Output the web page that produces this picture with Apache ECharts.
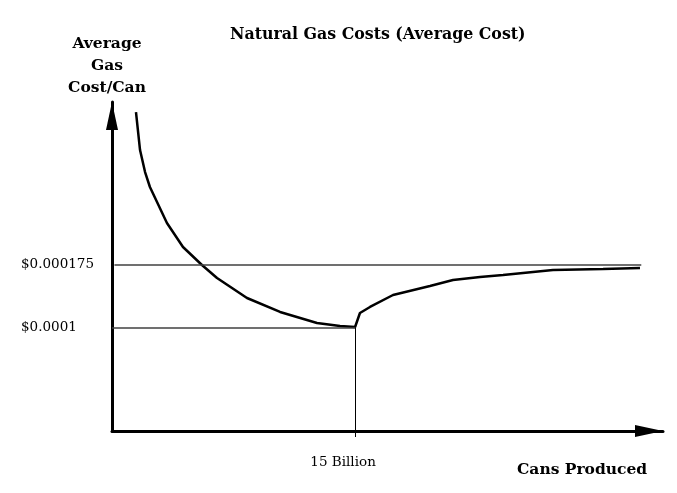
<!DOCTYPE html>
<html>
<head>
<meta charset="utf-8">
<title>Natural Gas Costs (Average Cost)</title>
<script src="https://cdn.jsdelivr.net/npm/echarts@6/dist/echarts.min.js"></script>
<style>
  html, body { margin: 0; padding: 0; background: #fff; }
  #main { width: 677px; height: 493px; }
</style>
</head>
<body>
<div id="main"></div>
<script>
// cans produced (billions) and average gas cost per can ($)
const cansBillions = [1.48, 1.73, 2.04, 2.34, 3.39, 4.38, 5.55, 6.48, 8.33, 10.37, 12.65, 14.07, 15.0,
                      15.30, 15.92, 17.34, 19.62, 21.04, 22.71, 24.13, 27.21, 30.30, 32.58];
const costPerCan = [0.000358, 0.0003125, 0.0002862, 0.0002683, 0.0002252, 0.0001965, 0.000175, 0.0001594,
                    0.0001355, 0.0001188, 0.0001056, 0.000102, 0.0001008,
                    0.0001176, 0.0001248, 0.0001391, 0.0001499, 0.000157, 0.0001607, 0.000163,
                    0.000169, 0.0001702, 0.0001714];

// reference levels
const minCostLevel = 0.0001;
const longRunLevel = 0.000175;
const minCostOutput = 15;
const yTickValues = [0.0001, 0.000175];
const yTickLabels = ['$0.0001', '$0.000175'];
const xTickValues = [15];
const xTickLabels = ['15 Billion'];

// axis range (the drawing does not start at zero)
const xMin = 0, xMax = 34;
const yMin = -0.0000236, yMax = 0.00037;

const points = cansBillions.map((x, i) => [x, costPerCan[i]]);

var chartDom = document.getElementById('main');
var myChart = echarts.init(chartDom, null, { renderer: 'canvas' });

const serif = '"DejaVu Serif", "Liberation Serif", serif';

var option = {
  animation: false,
  backgroundColor: '#fff',
  title: [
    {
      text: 'Natural Gas Costs (Average Cost)',
      left: 225,
      top: 22,
      textStyle: { fontFamily: serif, fontWeight: 'bold', fontSize: 15.8, color: '#000' }
    },
    {
      text: 'Cans Produced',
      left: 512,
      top: 457,
      textStyle: { fontFamily: serif, fontWeight: 'bold', fontSize: 15.5, color: '#000' }
    }
  ],
  grid: { left: 112, right: 14, top: 102, bottom: 62 },
  xAxis: {
    type: 'value',
    min: xMin,
    max: xMax,
    splitLine: { show: false },
    axisLine: {
      onZero: false,
      symbol: ['none', 'triangle'],
      symbolSize: [12, 28],
      symbolOffset: [0, -14],
      lineStyle: { color: '#000', width: 3 }
    },
    axisTick: {
      show: true,
      customValues: xTickValues,
      length: 6,
      lineStyle: { color: '#000', width: 1 }
    },
    axisLabel: {
      customValues: xTickValues,
      formatter: v => xTickLabels[xTickValues.indexOf(v)] || '',
      margin: 24,
      padding: [0, 24, 0, 0],
      fontFamily: serif,
      fontSize: 13.5,
      color: '#000'
    }
  },
  yAxis: {
    type: 'value',
    min: yMin,
    max: yMax,
    name: 'Average\nGas\nCost/Can',
    nameLocation: 'end',
    nameGap: 3,
    nameTextStyle: {
      fontFamily: serif, fontWeight: 'bold', fontSize: 15.5, color: '#000',
      lineHeight: 22, align: 'center', padding: [0, 10, 0, 0]
    },
    splitLine: { show: false },
    axisLine: {
      onZero: false,
      symbol: ['none', 'triangle'],
      symbolSize: [12, 28],
      symbolOffset: [0, -14],
      lineStyle: { color: '#000', width: 3 }
    },
    axisTick: { show: false },
    axisLabel: {
      customValues: yTickValues,
      formatter: v => yTickLabels[yTickValues.indexOf(v)] || '',
      align: 'left',
      margin: 91,
      fontFamily: serif,
      fontSize: 13.5,
      color: '#000'
    }
  },
  series: [
    {
      type: 'line',
      data: points,
      showSymbol: false,
      smooth: false,
      clip: false,
      lineStyle: { color: '#000', width: 2.5 },
      markLine: {
        silent: true,
        symbol: 'none',
        label: { show: false },
        data: [
          [
            { coord: [0.15, longRunLevel], lineStyle: { color: '#404040', width: 1.5, type: 'solid' } },
            { coord: [32.66, longRunLevel] }
          ],
          [
            { coord: [0, minCostLevel], lineStyle: { color: '#404040', width: 1.5, type: 'solid' } },
            { coord: [minCostOutput, minCostLevel] }
          ],
          [
            { coord: [minCostOutput, minCostLevel], lineStyle: { color: '#000', width: 1, type: 'solid' } },
            { coord: [minCostOutput, yMin] }
          ]
        ]
      }
    }
  ]
};

option && myChart.setOption(option);
</script>
</body>
</html>
